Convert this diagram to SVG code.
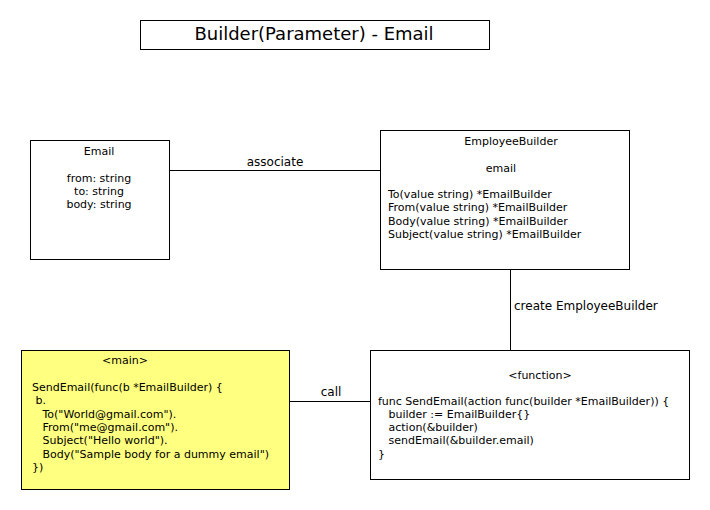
<svg xmlns="http://www.w3.org/2000/svg" width="710" height="510" viewBox="0 0 710 510">
<style>
text{font-family:"DejaVu Sans",sans-serif;fill:#000}
.t{font-size:11px}
.l{font-size:12px}
.c{text-anchor:middle}
.box{fill:#fff;stroke:#000;stroke-width:1}
.wire{stroke:#000;stroke-width:1;fill:none}
</style>
<rect width="710" height="510" fill="#fff"/>
<g id="title">
<rect class="box" x="140.5" y="20.5" width="349" height="29"/>
<text x="314" y="40" class="c" style="font-size:18px">Builder(Parameter) - Email</text>
</g>
<g id="connectors">
<line class="wire" x1="169" y1="170.5" x2="380" y2="170.5"/>
<text x="275" y="166" class="l c">associate</text>
<line class="wire" x1="510.5" y1="269" x2="510.5" y2="350"/>
<text x="514" y="310" class="l">create EmployeeBuilder</text>
<line class="wire" x1="289" y1="401.5" x2="370" y2="401.5"/>
<text x="331" y="396" class="l c">call</text>
</g>
<g id="email">
<rect class="box" x="30.5" y="140.5" width="139" height="119"/>
<text x="99" y="155" class="t c">Email</text>
<text x="99" y="182" class="t c">from: string</text>
<text x="99" y="195" class="t c">to: string</text>
<text x="99" y="208" class="t c">body: string</text>
</g>
<g id="employeebuilder">
<rect class="box" x="380.5" y="130.5" width="249" height="139"/>
<text x="511" y="145" class="t c">EmployeeBuilder</text>
<text x="501" y="172" class="t c">email</text>
<text x="388" y="198" class="t">To(value string) *EmailBuilder</text>
<text x="388" y="211" class="t">From(value string) *EmailBuilder</text>
<text x="388" y="225" class="t">Body(value string) *EmailBuilder</text>
<text x="388" y="238" class="t">Subject(value string) *EmailBuilder</text>
</g>
<g id="main">
<rect class="box" x="21.5" y="350.5" width="268" height="139" style="fill:#ffff80"/>
<text x="125" y="364" class="t c">&lt;main&gt;</text>
<text x="32" y="391" class="t" xml:space="preserve">SendEmail(func(b *EmailBuilder) {</text>
<text x="32" y="404" class="t" xml:space="preserve"> b.</text>
<text x="32" y="418" class="t" xml:space="preserve">   To("World@gmail.com").</text>
<text x="32" y="431" class="t" xml:space="preserve">   From("me@gmail.com").</text>
<text x="32" y="444" class="t" xml:space="preserve">   Subject("Hello world").</text>
<text x="32" y="458" class="t" xml:space="preserve">   Body("Sample body for a dummy email")</text>
<text x="32" y="471" class="t">})</text>
</g>
<g id="function">
<rect class="box" x="370.5" y="350.5" width="319" height="129"/>
<text x="540" y="379" class="t c">&lt;function&gt;</text>
<text x="378" y="405" class="t">func SendEmail(action func(builder *EmailBuilder)) {</text>
<text x="378" y="418" class="t" xml:space="preserve">   builder := EmailBuilder{}</text>
<text x="378" y="431" class="t" xml:space="preserve">   action(&amp;builder)</text>
<text x="378" y="444" class="t" xml:space="preserve">   sendEmail(&amp;builder.email)</text>
<text x="378" y="458" class="t">}</text>
</g>
</svg>
